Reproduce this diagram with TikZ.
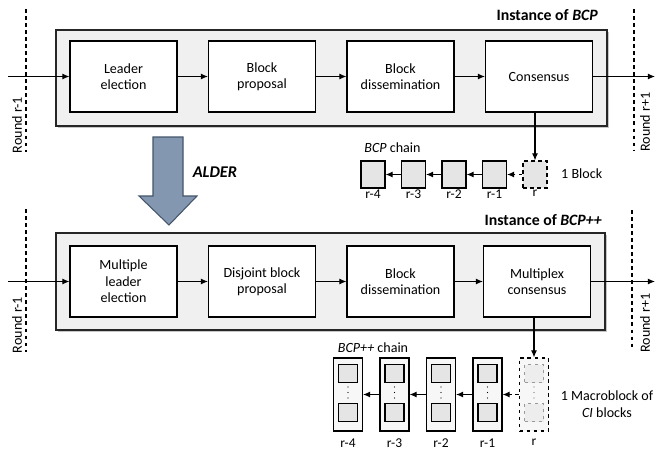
\documentclass[tikz,border=0pt]{standalone}
\usepackage{fontspec}
\setmainfont{Carlito}
\usetikzlibrary{arrows.meta,shadows}
\definecolor{alderfill}{RGB}{132,151,176}
\definecolor{alderdraw}{RGB}{68,84,106}

\begin{document}
\begin{tikzpicture}[x=0.03cm,y=-0.03cm,
    font=\fontsize{12}{14}\selectfont,
    >={Latex[length=6pt,width=5pt]},
    instance/.style={draw=black!85,line width=0.9pt,fill=black!6,
      minimum width=16.53cm,minimum height=2.88cm,
      drop shadow={shadow xshift=1.6pt,shadow yshift=-1.6pt,opacity=0.45}},
    stage/.style={draw,line width=0.9pt,fill=white,align=center,
      minimum width=3.21cm,minimum height=2.13cm,inner sep=1pt},
    title/.style={font=\fontsize{13.5}{15}\selectfont\bfseries,anchor=east,inner sep=0pt},
    roundline/.style={dashed,line width=0.9pt},
    roundtxt/.style={rotate=90,font=\fontsize{12}{14}\selectfont,inner sep=0pt},
    flow/.style={->,line width=0.9pt},
    blk/.style={draw,line width=0.9pt,fill=black!10,minimum width=0.72cm,minimum height=0.81cm,inner sep=0pt},
    mac/.style={draw,line width=0.9pt,fill=black!3,minimum width=0.87cm,minimum height=2.19cm,inner sep=0pt},
    sq/.style={draw,line width=0.9pt,fill=black!10,minimum width=0.57cm,minimum height=0.54cm,inner sep=0pt},
    tag/.style={font=\fontsize{11.5}{13}\selectfont,anchor=north,inner sep=1pt}]

  \useasboundingbox (0,0) rectangle (657,451);

  % Instance of BCP
  \node[instance] (inst1) at (331.5,78) {};
  \node[title] (title1) at (598,15) {Instance of \textit{BCP}};

  %% Stages
  \node[stage] (lead1) at (123.5,76.5) {Leader\\election};
  \node[stage] (prop1) at (262,76.5) {Block\\proposal};
  \node[stage] (diss1) at (400.5,76.5) {Block\\dissemination};
  \node[stage] (cons1) at (539,76.5) {Consensus};

  %% Rounds
  \draw[roundline] (26,9) -- (26,152);
  \draw[roundline] (634,9) -- (634,150);
  \node[roundtxt] (rnd1a) at (17,125) {Round r-1};
  \node[roundtxt] (rnd1b) at (645,122) {Round r+1};

  \coordinate (in1) at (8,76.5);
  \coordinate (out1) at (655,76.5);
  \draw[flow] (in1) -- (lead1);
  \draw[flow] (lead1) -- (prop1);
  \draw[flow] (prop1) -- (diss1);
  \draw[flow] (diss1) -- (cons1);
  \draw[flow] (cons1) -- (out1);

  %% BCP chain
  \node[blk,dashed] (blk0) at (535,174.5) {};
  \node[tag] (tag10) at (blk0.south) {r};
  \foreach \i/\x in {1/494.5,2/454,3/413.5,4/373}{
    \node[blk] (blk\i) at (\x,174.5) {};
    \node[tag] (tag1\i) at (blk\i.south) {r-\i};
  }
  \draw[flow] (cons1.south -| blk0) -- (blk0);
  \draw[flow,dashed] (blk0) -- (blk1);
  \foreach \i/\j in {1/2,2/3,3/4}
    \draw[flow] (blk\i) -- (blk\j);
  \node (chain1) at (392.5,148) {\textit{BCP} chain};
  \node[anchor=west,inner sep=0pt] (note1) at (561,174) {1 Block};

  % ALDER arrow
  \draw[fill=alderfill,draw=alderdraw,line width=0.9pt]
    (153,137) -- (183,137) -- (183,196) -- (197,196) -- (169,225)
    -- (139,196) -- (153,196) -- cycle;
  \node[font=\fontsize{14}{16}\selectfont\bfseries\itshape] (alder) at (215,172) {ALDER};

  % Instance of BCP++
  \node[instance,minimum width=16.47cm,minimum height=2.91cm] (inst2) at (330.5,281.5) {};
  \node[title] (title2) at (602,220) {Instance of \textit{BCP++}};

  %% Stages
  \node[stage] (lead2) at (123.5,281.5) {Multiple\\leader\\election};
  \node[stage] (prop2) at (262,281.5) {Disjoint block\\proposal};
  \node[stage] (diss2) at (400.5,281.5) {Block\\dissemination};
  \node[stage] (cons2) at (537,281.5) {Multiplex\\consensus};

  %% Rounds
  \draw[roundline] (26,209) -- (26,352);
  \draw[roundline] (632,210) -- (632,350);
  \node[roundtxt] (rnd2a) at (17,325) {Round r-1};
  \node[roundtxt] (rnd2b) at (645,323) {Round r+1};

  \coordinate (in2) at (8,281.5);
  \coordinate (out2) at (655,281.5);
  \draw[flow] (in2) -- (lead2);
  \draw[flow] (lead2) -- (prop2);
  \draw[flow] (prop2) -- (diss2);
  \draw[flow] (diss2) -- (cons2);
  \draw[flow] (cons2) -- (out2);

  %% BCP++ chain
  \node[mac,dashed] (mac0) at (534,394.5) {};
  \node[sq,dashed,draw=black!40,fill=black!7] (mac0t) at (534,373.5) {};
  \node[sq,dashed,draw=black!40,fill=black!7] (mac0b) at (534,412.5) {};
  \foreach \y in {387,392.5,398}
    \fill[black!55] (534,\y) circle[radius=0.55pt];
  \node[tag,yshift=-0.17cm] (tag20) at (mac0.south) {r};
  \foreach \i/\x in {1/487.5,2/441,3/394.5,4/348}{
    \node[mac] (mac\i) at (\x,394.5) {};
    \node[sq] (mac\i t) at (\x,373.5) {};
    \node[sq] (mac\i b) at (\x,412.5) {};
    \foreach \y in {387,392.5,398}
      \fill (\x,\y) circle[radius=0.55pt];
    \node[tag,yshift=-0.17cm] (tag2\i) at (mac\i.south) {r-\i};
  }
  \draw[flow] (cons2.south -| mac0) -- (mac0);
  \draw[flow,dashed] (mac0) -- (mac1);
  \foreach \i/\j in {1/2,2/3,3/4}
    \draw[flow] (mac\i) -- (mac\j);
  \node (chain2) at (373,348) {\textit{BCP++} chain};
  \node[align=center,inner sep=0pt] (note2) at (607,404) {1 Macroblock of\\\textit{CI} blocks};
\end{tikzpicture}
\end{document}
